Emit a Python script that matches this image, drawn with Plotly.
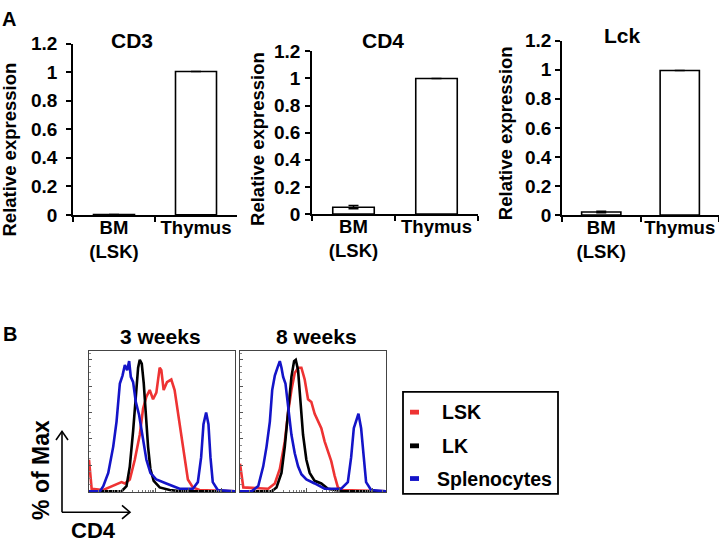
import math
import plotly.graph_objects as go

W, H = 719, 554

# ---------------- Data: Panel A (qPCR relative expression) ----------------
categories = ["BM<br>(LSK)", "Thymus"]
genes = ["CD3", "CD4", "Lck"]
cd3_values = [0.003, 1.005]
cd3_errors = [0.0, 0.0]
cd4_values = [0.05, 1.0]
cd4_errors = [0.012, 0.0]
lck_values = [0.02, 0.995]
lck_errors = [0.005, 0.0]
bar_ticks = [0, 0.2, 0.4, 0.6, 0.8, 1, 1.2]
bar_ticktext = ["0", "0.2", "0.4", "0.6", "0.8", "1", "1.2"]

# ---------------- Data: Panel B (flow histograms, CD4 in log decades, % of max) ----------------
lsk_3w_x = [0.0, 0.08, 0.43, 0.73, 0.98, 1.08, 1.23, 1.38, 1.53, 1.63, 1.73, 1.83, 1.93, 2.03, 2.13, 2.18,
            2.25, 2.35, 2.48, 2.58, 2.68, 2.78, 2.88, 2.98, 3.13, 3.33, 4.4]
lsk_3w_y = [24, 2, 1, 4, 7, 6, 9, 24, 43, 63, 72, 77, 70, 75, 94, 92,
            77, 83, 85, 77, 60, 41, 24, 9, 3, 1, 0]
lk_3w_x = [0.0, 0.98, 1.13, 1.23, 1.33, 1.41, 1.48, 1.53, 1.59, 1.65, 1.71, 1.78, 1.85, 1.95, 2.13, 2.43, 2.8, 4.4]
lk_3w_y = [0, 0, 4, 19, 46, 75, 94, 100, 97, 82, 58, 34, 17, 8, 3, 1, 0, 0]
spl_3w_x = [0.0, 0.33, 0.43, 0.58, 0.73, 0.83, 0.93, 1.01, 1.08, 1.15, 1.21, 1.26, 1.33, 1.41, 1.51, 1.63,
            1.73, 1.85, 2.03, 2.33, 2.73, 3.13, 3.28, 3.38, 3.45, 3.53, 3.6, 3.66, 3.73, 3.88, 4.4]
spl_3w_y = [0, 0, 4, 14, 34, 53, 82, 88, 96, 92, 99, 87, 83, 68, 58, 38,
            24, 14, 9, 6, 2, 2, 7, 26, 51, 60, 51, 26, 7, 1, 0]

lsk_8w_x = [0.0, 0.1, 0.85, 1.05, 1.2, 1.35, 1.45, 1.55, 1.65, 1.75, 1.85, 1.95, 2.05, 2.15, 2.25, 2.35,
            2.45, 2.55, 2.65, 2.75, 2.85, 2.95, 3.1, 4.4]
lsk_8w_y = [21, 3, 2, 6, 17, 38, 60, 77, 90, 94, 94, 85, 70, 68, 59, 54,
            48, 38, 31, 23, 12, 3, 1, 0]
lk_8w_x = [0.0, 0.95, 1.1, 1.25, 1.35, 1.45, 1.55, 1.63, 1.68, 1.75, 1.82, 1.9, 2.0, 2.1, 2.25, 2.45,
           2.65, 2.85, 3.1, 4.4]
lk_8w_y = [0, 0, 3, 14, 34, 63, 87, 99, 100, 92, 70, 43, 24, 14, 8, 6,
           2, 1, 0, 0]
spl_8w_x = [0.0, 0.35, 0.55, 0.7, 0.8, 0.9, 0.97, 1.05, 1.13, 1.2, 1.25, 1.3, 1.37, 1.45, 1.55, 1.65,
            1.75, 1.85, 2.0, 2.25, 2.55, 3.05, 3.25, 3.35, 3.43, 3.57, 3.65, 3.73, 3.8, 3.95, 4.4]
spl_8w_y = [0, 0, 4, 19, 34, 53, 77, 88, 94, 99, 94, 87, 82, 63, 43, 29,
            19, 13, 9, 6, 2, 2, 7, 26, 48, 59, 48, 26, 7, 1, 0]

timepoints = ["3 weeks", "8 weeks"]
population_names = ["LSK", "LK", "Splenocytes"]
population_colors = ["#ee3333", "#000000", "#1414c8"]

# ---------------- helpers (pixel -> paper) ----------------
def fx(px):
    return px / W

def fy(py):
    return 1 - py / H

FONT = "Liberation Sans, Arial, sans-serif"

fig = go.Figure()

# ---------------- Panel A bars ----------------
bar_sets = [(cd3_values, cd3_errors), (cd4_values, cd4_errors), (lck_values, lck_errors)]
bar_boxes = [  # (x0, x1, ytop(1.2), ybottom(0)) in pixels
    (73, 237, 35, 213),
    (312, 478, 43, 212),
    (562, 719, 32, 213),
]
standoffs = [5, 1, 0]
for i, ((vals, errs), (x0, x1, yt, yb)) in enumerate(zip(bar_sets, bar_boxes)):
    n = i + 1
    xa = "x" if n == 1 else f"x{n}"
    ya = "y" if n == 1 else f"y{n}"
    fig.add_trace(go.Bar(
        x=categories, y=vals, xaxis=xa, yaxis=ya, width=0.5,
        marker=dict(color="white", line=dict(color="black", width=1.6)),
        error_y=dict(type="data", array=errs, visible=True, color="black", thickness=1.5, width=5),
        showlegend=False,
    ))
    fig.layout[f"xaxis{'' if n == 1 else n}"] = dict(
        domain=[fx(x0), fx(x1)], anchor=ya, type="category", tickangle=0,
        showline=True, linecolor="black", linewidth=1.5,
        ticks="outside", tickson="boundaries", ticklen=5, tickcolor="black", tickwidth=1.5,
        ticklabelstandoff=-5,
        tickfont=dict(family=FONT, size=18.5, color="black", weight="bold"),
        showgrid=False, zeroline=False, fixedrange=True,
    )
    fig.layout[f"yaxis{'' if n == 1 else n}"] = dict(
        domain=[fy(yb), fy(yt)], anchor=xa, range=[0, 1.2],
        showline=True, linecolor="black", linewidth=1.5,
        ticks="outside", ticklen=5, tickcolor="black", tickwidth=1.5,
        tickvals=bar_ticks, ticktext=bar_ticktext, ticklabelstandoff=standoffs[i],
        tickfont=dict(family=FONT, size=19, color="black", weight="bold"),
        showgrid=False, zeroline=False, fixedrange=True,
    )

title_pos = [(132, 32), (383, 32), (622, 26)]
ytitle_pos = [(10, 145), (258, 134), (505, 128)]
annotations = []
for g, (tx, ty) in zip(genes, title_pos):
    annotations.append(dict(text=g, x=fx(tx), y=fy(ty), xref="paper", yref="paper",
                            xanchor="center", yanchor="middle", showarrow=False,
                            font=dict(family=FONT, size=21, color="black", weight="bold")))
for (tx, ty) in ytitle_pos:
    annotations.append(dict(text="Relative expression", x=fx(tx), y=fy(ty), xref="paper", yref="paper",
                            xanchor="center", yanchor="middle", showarrow=False, textangle=-90,
                            font=dict(family=FONT, size=18.5, color="black", weight="bold")))

# Panel letters
annotations.append(dict(text="A", x=fx(9), y=fy(9), xref="paper", yref="paper", showarrow=False,
                        xanchor="center", yanchor="middle",
                        font=dict(family=FONT, size=20, color="black", weight="bold")))
annotations.append(dict(text="B", x=fx(10), y=fy(337), xref="paper", yref="paper", showarrow=False,
                        xanchor="center", yanchor="middle",
                        font=dict(family=FONT, size=20, color="black", weight="bold")))

# ---------------- Panel B histograms ----------------
hist_sets = [
    [(lsk_3w_x, lsk_3w_y), (lk_3w_x, lk_3w_y), (spl_3w_x, spl_3w_y)],
    [(lsk_8w_x, lsk_8w_y), (lk_8w_x, lk_8w_y), (spl_8w_x, spl_8w_y)],
]
hist_boxes = [(89, 235), (240, 386)]
hist_top, hist_bottom = 354, 501
minor_x = [d + math.log10(k) for d in range(0, 5) for k in range(2, 10) if d + math.log10(k) < 4.4]
for j, (curves, (x0, x1)) in enumerate(zip(hist_sets, hist_boxes)):
    n = 4 + j
    xa, ya = f"x{n}", f"y{n}"
    for order in [0, 1, 2]:
        cx, cy = curves[order]
        fig.add_trace(go.Scatter(
            x=cx, y=cy, xaxis=xa, yaxis=ya, mode="lines",
            line=dict(color=population_colors[order], width=2.6),
            name=population_names[order], showlegend=False,
        ))
    fig.layout[f"xaxis{n}"] = dict(
        domain=[fx(x0), fx(x1)], anchor=ya, range=[0, 4.4],
        showline=True, mirror=True, linecolor="#444444", linewidth=1,
        ticks="inside", ticklen=4, tickcolor="#555555", tickwidth=1,
        tickvals=[0, 1, 2, 3, 4], showticklabels=False,
        minor=dict(tickvals=minor_x, ticks="inside", ticklen=2, tickcolor="#777777"),
        showgrid=False, zeroline=False, fixedrange=True,
    )
    fig.layout[f"yaxis{n}"] = dict(
        domain=[fy(hist_bottom), fy(hist_top)], anchor=xa, range=[-0.5, 107],
        showline=True, mirror=True, linecolor="#444444", linewidth=1,
        ticks="inside", ticklen=3, tickcolor="#555555", tickwidth=1,
        tickvals=[0, 20, 40, 60, 80, 100], showticklabels=False,
        minor=dict(dtick=5, ticks="inside", ticklen=1.5, tickcolor="#888888"),
        showgrid=False, zeroline=False, fixedrange=True,
    )
    annotations.append(dict(text=timepoints[j], x=fx((x0 + x1) / 2 - 2 if j == 0 else (x0 + x1) / 2 + 3),
                            y=fy(339), xref="paper", yref="paper", showarrow=False,
                            xanchor="center", yanchor="middle",
                            font=dict(family=FONT, size=21, color="black", weight="bold")))

# Axis arrows ("% of Max" / "CD4")
shapes = []
arrow_style = dict(color="black", width=1.6)
shapes.append(dict(type="line", xref="paper", yref="paper",
                   x0=fx(62), y0=fy(522), x1=fx(62), y1=fy(438), line=arrow_style))
shapes.append(dict(type="line", xref="paper", yref="paper",
                   x0=fx(62), y0=fy(522), x1=fx(130), y1=fy(522), line=arrow_style))
shapes.append(dict(type="path", xref="paper", yref="paper",
                   path=f"M{fx(56)},{fy(447)} L{fx(62)},{fy(438)} L{fx(68)},{fy(447)}", line=arrow_style))
shapes.append(dict(type="path", xref="paper", yref="paper",
                   path=f"M{fx(122)},{fy(515)} L{fx(130)},{fy(522)} L{fx(122)},{fy(529)}", line=arrow_style))
annotations.append(dict(text="% of Max", x=fx(41), y=fy(478), xref="paper", yref="paper",
                        showarrow=False, textangle=-90, xanchor="center", yanchor="middle",
                        font=dict(family=FONT, size=23, color="black", weight="bold")))
annotations.append(dict(text="CD4", x=fx(93), y=fy(541), xref="paper", yref="paper",
                        showarrow=False, xanchor="center", yanchor="middle",
                        font=dict(family=FONT, size=22, color="black", weight="bold")))

# Legend box
shapes.append(dict(type="rect", xref="paper", yref="paper",
                   x0=fx(403), x1=fx(558), y0=fy(503), y1=fy(397),
                   line=dict(color="black", width=1.8), fillcolor="white"))
legend_rows = [418, 453, 487]
legend_text_x = [440, 440, 435]
for name, color, ry, tx in zip(population_names, population_colors, legend_rows, legend_text_x):
    shapes.append(dict(type="rect", xref="paper", yref="paper",
                       x0=fx(410), x1=fx(419), y0=fy(ry + 2.5), y1=fy(ry - 2.5),
                       line=dict(width=0), fillcolor=color))
    annotations.append(dict(text=name, x=fx(tx), y=fy(ry), xref="paper", yref="paper",
                            showarrow=False, xanchor="left", yanchor="middle",
                            font=dict(family=FONT, size=19.5, color="black", weight="bold")))

fig.update_layout(
    width=W, height=H, margin=dict(l=0, r=0, t=0, b=0),
    paper_bgcolor="white", plot_bgcolor="white",
    annotations=annotations, shapes=shapes, showlegend=False,
    bargap=0.5,
)

fig.write_html(
    "out.html",
    config={"displayModeBar": False},
    post_script="document.body.style.margin='0';document.body.style.padding='0';document.body.style.overflow='hidden';",
)
